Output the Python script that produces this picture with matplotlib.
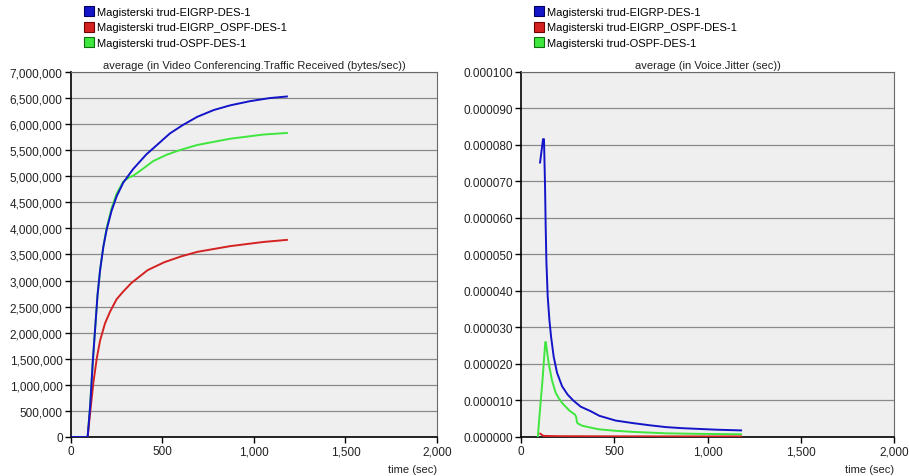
import numpy as np
import matplotlib
matplotlib.use("Agg")
import matplotlib.pyplot as plt
from matplotlib.lines import Line2D
from matplotlib.ticker import FuncFormatter, MultipleLocator

plt.rcParams["font.family"] = ["Liberation Sans", "DejaVu Sans"]

series_names = [
    "Magisterski trud-EIGRP-DES-1",
    "Magisterski trud-EIGRP_OSPF-DES-1",
    "Magisterski trud-OSPF-DES-1",
]
series_colors = ["#1414c8", "#d42222", "#3ee63e"]
legend_edges = ["#000060", "#700000", "#107010"]

# Video Conferencing traffic received, average (bytes/sec)
traffic_t_eigrp = [0, 91, 105, 119, 132, 145, 159, 177, 195, 222, 250, 286, 340,
                   412, 470, 540, 610, 690, 780, 870, 978, 1087, 1180]
traffic_eigrp = [0, 0, 0.61e6, 1.44e6, 2.08e6, 2.72e6, 3.20e6, 3.65e6, 3.98e6, 4.34e6,
                 4.62e6, 4.88e6, 5.14e6, 5.42e6, 5.60e6, 5.82e6, 5.98e6, 6.14e6,
                 6.27e6, 6.36e6, 6.44e6, 6.50e6, 6.53e6]

traffic_t_mixed = [0, 91, 105, 123, 141, 159, 186, 213, 249, 283, 329, 419, 509,
                   599, 690, 870, 1051, 1180]
traffic_mixed = [0, 0, 0.48e6, 1.06e6, 1.51e6, 1.85e6, 2.18e6, 2.40e6, 2.64e6, 2.78e6,
                 2.95e6, 3.20e6, 3.35e6, 3.46e6, 3.55e6, 3.66e6, 3.74e6, 3.78e6]

traffic_t_ospf = [0, 91, 105, 119, 132, 145, 159, 177, 195, 222, 250, 286, 318,
                  340, 376, 449, 521, 593, 690, 780, 870, 1051, 1180]
traffic_ospf = [0, 0, 0.61e6, 1.44e6, 2.08e6, 2.72e6, 3.20e6, 3.66e6, 4.01e6, 4.39e6,
                4.67e6, 4.90e6, 4.98e6, 5.01e6, 5.10e6, 5.29e6, 5.41e6, 5.50e6,
                5.60e6, 5.66e6, 5.72e6, 5.80e6, 5.83e6]

# Voice jitter, average (microseconds)
jitter_t_eigrp = [102, 118, 123, 126, 129, 132, 136, 143, 152, 161, 175, 193, 220,
                  250, 280, 320, 372, 420, 507, 600, 691, 778, 869, 1046, 1180]
jitter_eigrp_us = [75.2, 81.6, 81.6, 75.0, 68.0, 58.0, 48.0, 38.5, 32.1, 27.5, 22.0,
                   17.6, 13.9, 11.6, 10.0, 8.3, 7.1, 5.8, 4.5, 3.8, 3.2, 2.7, 2.4,
                   2.0, 1.8]

jitter_t_mixed = [103, 120, 200, 500, 1180]
jitter_mixed_us = [0.9, 0.3, 0.22, 0.18, 0.15]

jitter_t_ospf = [90, 100, 115, 130, 133, 148, 166, 185, 200, 224, 260, 290, 296,
                 300, 305, 327, 370, 417, 507, 600, 778, 956, 1180]
jitter_ospf_us = [0, 6.5, 15.5, 26.0, 26.0, 20.2, 15.5, 12.2, 10.8, 9.1, 7.2, 6.1,
                  5.4, 4.0, 3.7, 3.1, 2.6, 2.1, 1.7, 1.4, 1.0, 0.85, 0.75]


def style_axes(ax, title):
    ax.set_facecolor("#efefef")
    ax.set_xlim(0, 2000)
    ax.xaxis.set_major_locator(MultipleLocator(500))
    ax.xaxis.set_major_formatter(FuncFormatter(lambda v, _: f"{v:,.0f}"))
    ax.grid(axis="y", color="#8a8a8a", linewidth=0.9)
    ax.set_axisbelow(True)
    for side in ("left", "bottom"):
        ax.spines[side].set_color("black")
        ax.spines[side].set_linewidth(1.2)
    for side in ("top", "right"):
        ax.spines[side].set_color("#6a6a6a")
        ax.spines[side].set_linewidth(0.8)
    ax.tick_params(direction="out", length=4, width=1, labelsize=8.5,
                   labelcolor="#222222", pad=2)
    ax.set_title(title, fontsize=8, pad=3, color="#222222")
    ax.set_xlabel("time (sec)", loc="right", fontsize=8, color="#222222", labelpad=5)


def add_legend(ax, x0):
    handles = [
        Line2D([], [], linestyle="none", marker="s", markersize=7.5,
               markerfacecolor=c, markeredgecolor=e, markeredgewidth=0.8)
        for c, e in zip(series_colors, legend_edges)
    ]
    ax.legend(handles, series_names, loc="upper left", bbox_to_anchor=(x0, 0.984),
              bbox_transform=ax.figure.transFigure, frameon=False, fontsize=8,
              handlelength=0.8, handletextpad=0.3, labelspacing=0.52,
              borderpad=0, borderaxespad=0)


fig = plt.figure(figsize=(9.09, 4.77), dpi=100)
ax_left = fig.add_axes([0.0781, 0.0818, 0.4026, 0.7652])
ax_right = fig.add_axes([0.5732, 0.0818, 0.4103, 0.7652])

# left: traffic received
ax_left.plot(traffic_t_ospf, traffic_ospf, color=series_colors[2], lw=1.4, zorder=3)
ax_left.plot(traffic_t_mixed, traffic_mixed, color=series_colors[1], lw=1.4, zorder=4)
ax_left.plot(traffic_t_eigrp, traffic_eigrp, color=series_colors[0], lw=1.4, zorder=5)
ax_left.set_ylim(0, 7e6)
ax_left.yaxis.set_major_locator(MultipleLocator(5e5))
ax_left.yaxis.set_major_formatter(FuncFormatter(lambda v, _: f"{v:,.0f}"))
style_axes(ax_left, "average (in Video Conferencing.Traffic Received (bytes/sec))")
add_legend(ax_left, 0.0935)

# right: voice jitter
ax_right.plot(jitter_t_ospf, np.array(jitter_ospf_us) * 1e-6, color=series_colors[2],
              lw=1.4, zorder=3)
ax_right.plot(jitter_t_mixed, np.array(jitter_mixed_us) * 1e-6, color=series_colors[1],
              lw=1.4, zorder=4)
ax_right.plot(jitter_t_eigrp, np.array(jitter_eigrp_us) * 1e-6, color=series_colors[0],
              lw=1.4, zorder=5)
ax_right.set_ylim(0, 1e-4)
ax_right.yaxis.set_major_locator(MultipleLocator(1e-5))
ax_right.yaxis.set_major_formatter(FuncFormatter(lambda v, _: f"{v:.6f}"))
style_axes(ax_right, "average (in Voice.Jitter (sec))")
add_legend(ax_right, 0.5886)

fig.savefig("out.png", dpi=100)
